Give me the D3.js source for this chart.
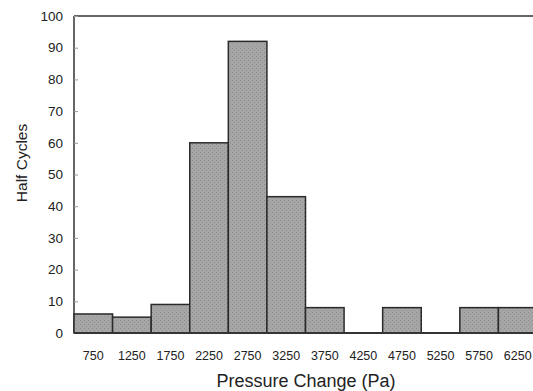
<!DOCTYPE html>
<html><head><meta charset="utf-8">
<script src="https://cdn.jsdelivr.net/npm/d3@7"></script>
<style>body{margin:0;background:#fff;} svg{display:block;}</style>
</head><body>
<svg id="c" width="533" height="391"></svg>
<script>
const categories = ["750","1250","1750","2250","2750","3250","3750","4250","4750","5250","5750","6250"];
const values = [6,5,9,60,92,43,8,0,8,0,8,8];
const yTicks = [0,10,20,30,40,50,60,70,80,90,100];

(function(){
const svg = d3.select("#c");
const pLeft = 74, pTop = 16, pBottom = 333, pRight = 537;
const x = d3.scaleBand().domain(categories).range([pLeft, pRight]).padding(0);
const y = d3.scaleLinear().domain([0,100]).range([pBottom, pTop]);
const font = "'Liberation Sans', Arial, Helvetica, sans-serif";

const defs = svg.append("defs");
const pat = defs.append("pattern").attr("id","tex").attr("patternUnits","userSpaceOnUse")
  .attr("width",4).attr("height",4);
pat.append("rect").attr("width",4).attr("height",4).attr("fill","#a6a6a6");
pat.append("rect").attr("x",0).attr("y",0).attr("width",1).attr("height",1).attr("fill","#8c8c8c");
pat.append("rect").attr("x",2).attr("y",2).attr("width",1).attr("height",1).attr("fill","#939393");

// frame
svg.append("line").attr("x1",pLeft).attr("x2",pRight).attr("y1",pTop).attr("y2",pTop)
  .attr("stroke","#333").attr("stroke-width",1.5);
svg.append("line").attr("x1",pLeft).attr("x2",pLeft).attr("y1",pTop).attr("y2",pBottom)
  .attr("stroke","#333").attr("stroke-width",1.5);

// y axis ticks
const yAxis = d3.axisRight(y).tickValues(yTicks).tickSize(4).tickFormat("");
const ya = svg.append("g").attr("transform",`translate(${pLeft},0)`).call(yAxis);
ya.select(".domain").remove();
ya.selectAll(".tick line").attr("stroke","#999").attr("stroke-width",1);

svg.append("g").selectAll("text").data(yTicks).join("text")
  .attr("x",63).attr("y",d=>y(d)).attr("dy","0.35em").attr("text-anchor","end")
  .attr("font-family",font).attr("font-size",13.5).attr("fill","#222").text(d=>d);

// bars
svg.append("g").selectAll("rect").data(values).join("rect")
  .attr("x",(d,i)=>x(categories[i])).attr("width",x.bandwidth())
  .attr("y",d=>y(d)).attr("height",d=>pBottom-y(d))
  .attr("fill","url(#tex)").attr("stroke","#2a2a2a").attr("stroke-width",1.5);

// x axis line
svg.append("line").attr("x1",pLeft).attr("x2",pRight).attr("y1",pBottom).attr("y2",pBottom)
  .attr("stroke","#333").attr("stroke-width",2);

// x tick labels
const xAxis = d3.axisBottom(x).tickSize(0).tickPadding(0);
const xa = svg.append("g").attr("transform",`translate(0,${pBottom})`).call(xAxis);
xa.select(".domain").remove();
xa.selectAll("text").attr("y",22.5).attr("dy","0.35em").attr("font-family",font)
  .attr("font-size",12.5).attr("fill","#222");

// titles
svg.append("text").attr("x",306).attr("y",387).attr("text-anchor","middle")
  .attr("font-family",font).attr("font-size",18).attr("fill","#222").text("Pressure Change (Pa)");
svg.append("text").attr("transform","translate(26.5,163) rotate(-90)").attr("text-anchor","middle")
  .attr("font-family",font).attr("font-size",15.5).attr("fill","#222").text("Half Cycles");
})();
</script>
</body></html>
